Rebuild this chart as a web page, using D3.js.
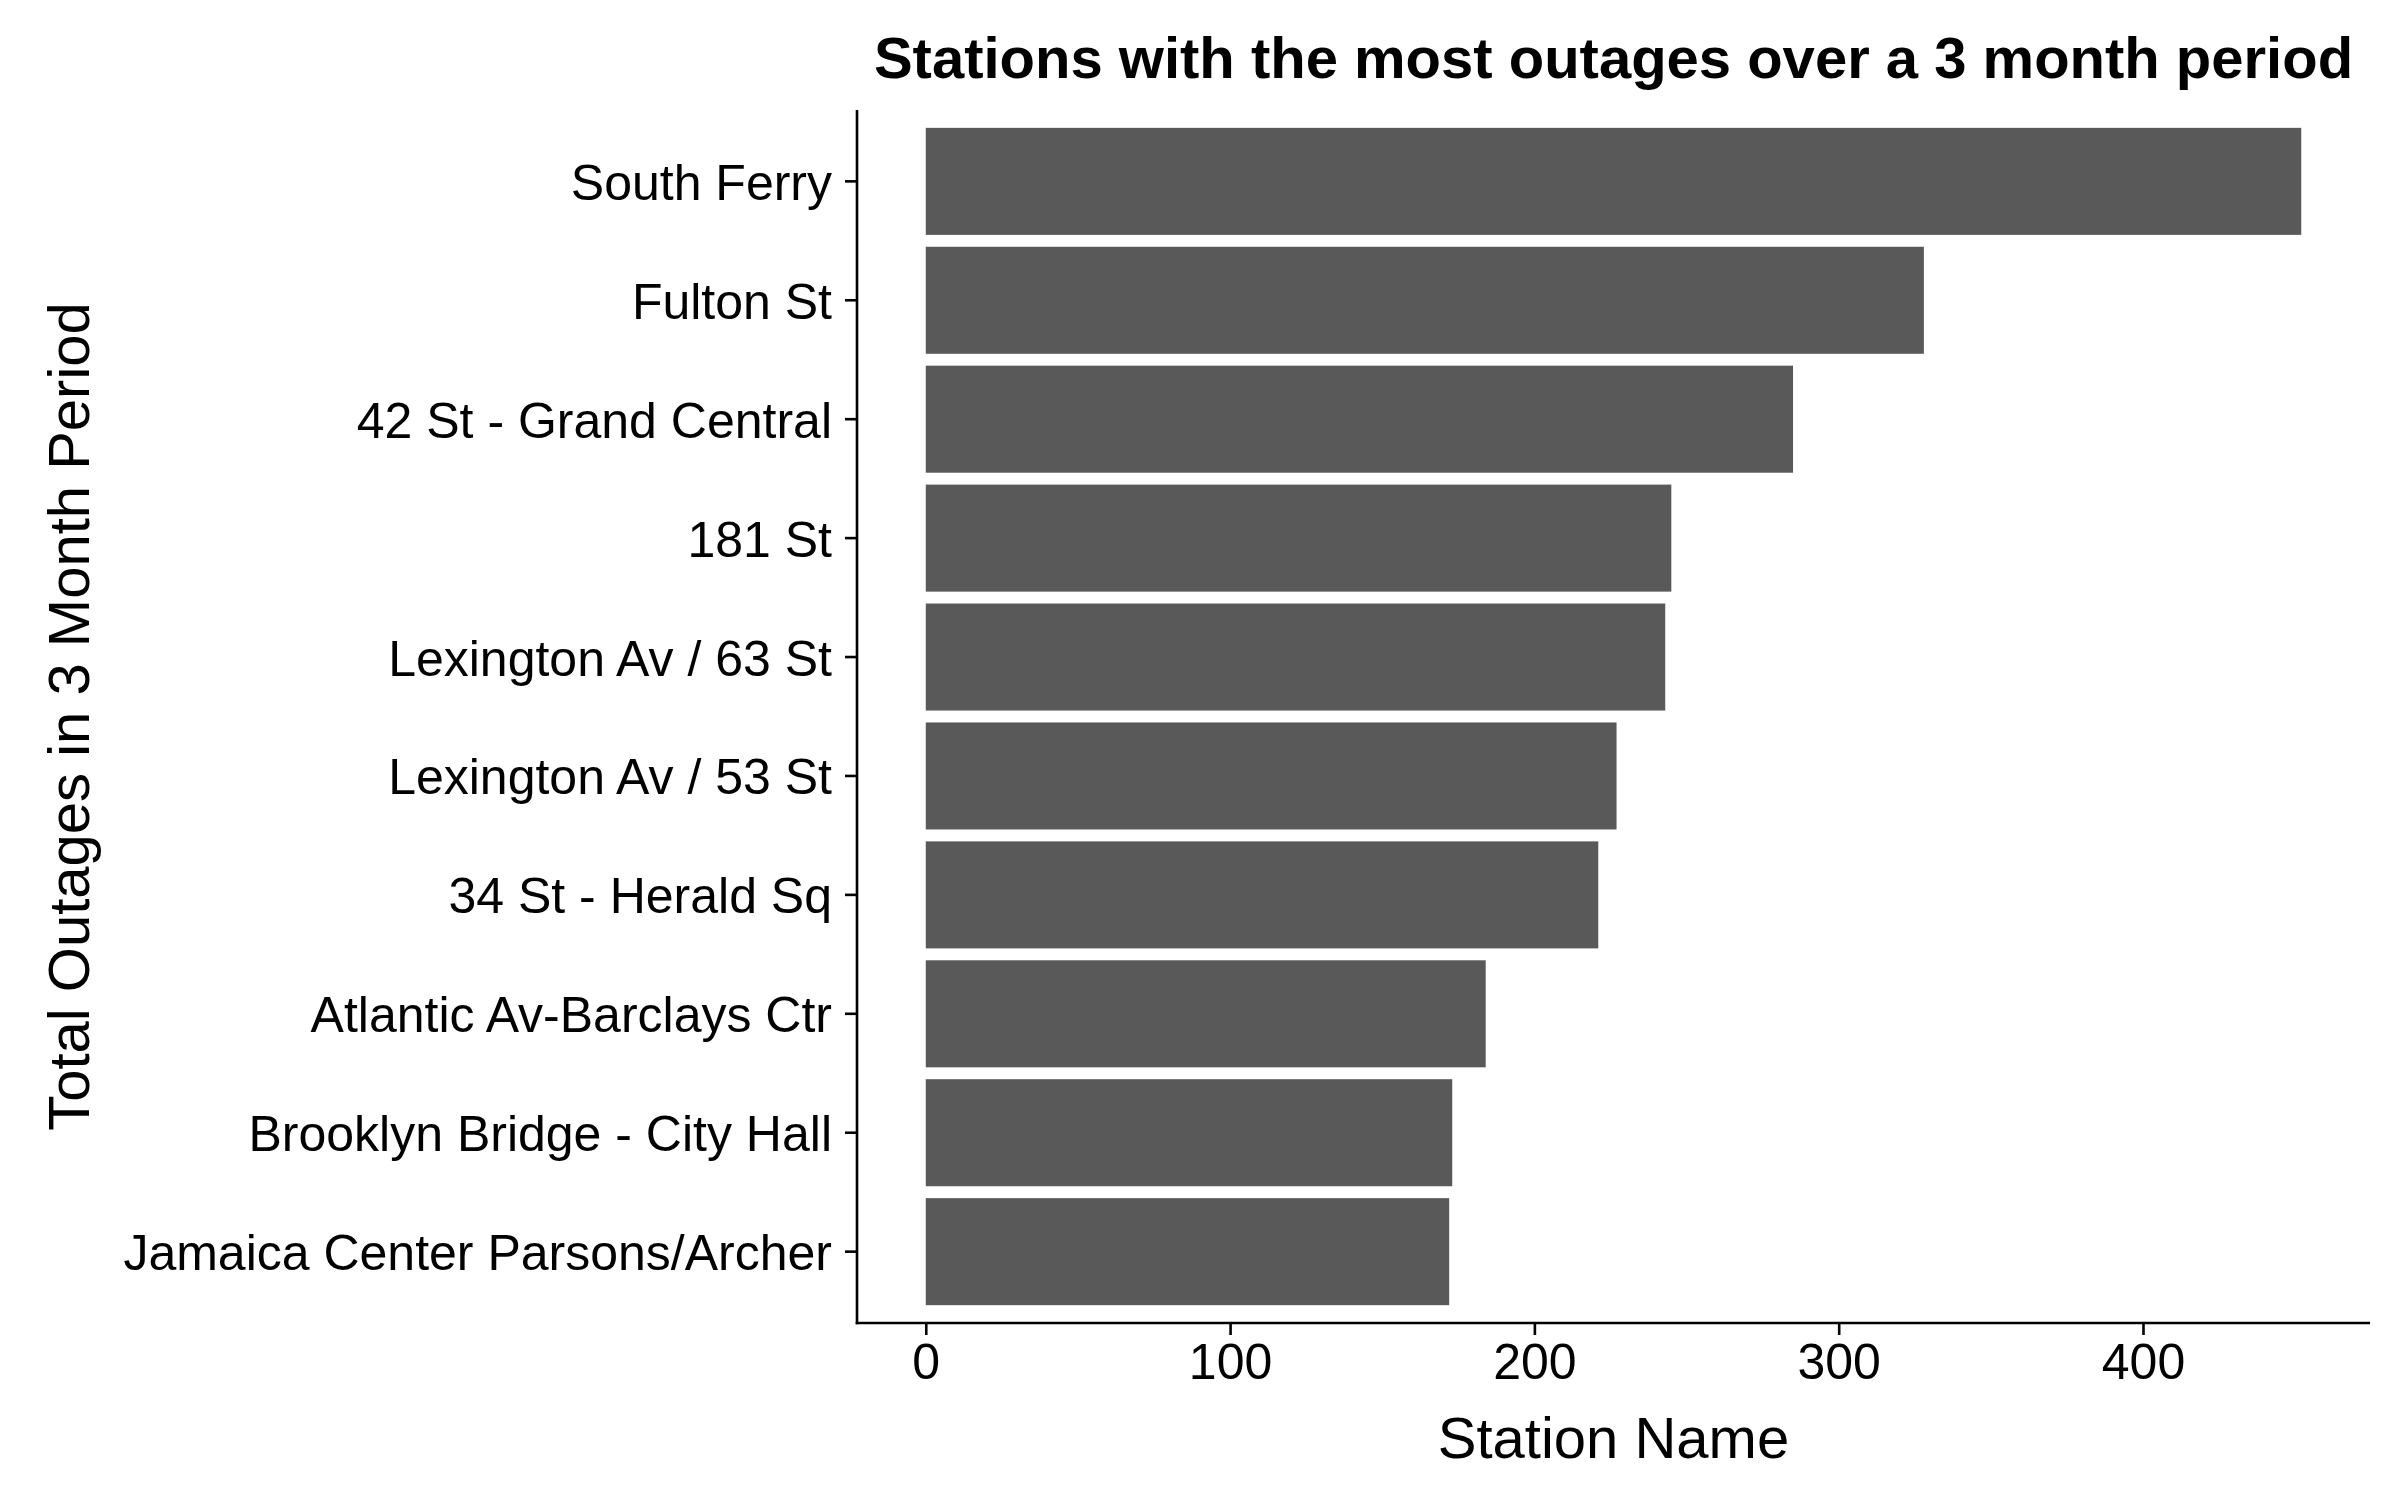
<!DOCTYPE html>
<html>
<head>
<meta charset="utf-8">
<script src="https://cdn.jsdelivr.net/npm/d3@7"></script>
<style>
  html, body { margin: 0; padding: 0; background: #ffffff; }
  svg { display: block; font-family: "Liberation Sans", Arial, sans-serif; }
</style>
</head>
<body>
<script>
const stations = [
  "South Ferry",
  "Fulton St",
  "42 St - Grand Central",
  "181 St",
  "Lexington Av / 63 St",
  "Lexington Av / 53 St",
  "34 St - Herald Sq",
  "Atlantic Av-Barclays Ctr",
  "Brooklyn Bridge - City Hall",
  "Jamaica Center Parsons/Archer"
];
const outages = [452, 328, 285, 245, 243, 227, 221, 184, 173, 172];
const xTicks = [0, 100, 200, 300, 400];
const titleText = "Stations with the most outages over a 3 month period";
const xTitle = "Station Name";
const yTitle = "Total Outages in 3 Month Period";

const W = 2400, H = 1500;
const panel = { left: 857, right: 2370, top: 110, bottom: 1323 };

const svg = d3.select("body").append("svg").attr("width", W).attr("height", H);
svg.append("rect").attr("width", W).attr("height", H).attr("fill", "#ffffff");

const maxV = d3.max(outages);
const pad = maxV * 0.05;
const x = d3.scaleLinear().domain([-pad, maxV + pad]).range([panel.left, panel.right]);
const y = d3.scaleBand().domain(stations).range([panel.top, panel.bottom])
  .paddingInner(0.1).paddingOuter(0.15);

const data = stations.map((s, i) => ({ station: s, value: outages[i] }));

svg.append("g").selectAll("rect").data(data).join("rect")
  .attr("x", x(0))
  .attr("y", d => y(d.station))
  .attr("width", d => x(d.value) - x(0))
  .attr("height", y.bandwidth())
  .attr("fill", "#595959");

// X axis
const xAxis = svg.append("g").attr("transform", `translate(0,${panel.bottom})`)
  .call(d3.axisBottom(x).tickValues(xTicks).tickSize(12).tickPadding(8).tickSizeOuter(0));
xAxis.select(".domain").remove();
xAxis.append("line").attr("x1", panel.left - 1.3).attr("x2", panel.right)
  .attr("y1", 0).attr("y2", 0).attr("stroke", "#000").attr("stroke-width", 2.6);
xAxis.selectAll(".tick line").attr("stroke", "#000").attr("stroke-width", 2.6);
xAxis.selectAll(".tick text").attr("font-size", 50).attr("fill", "#000")
  .attr("font-family", "Liberation Sans, Arial, sans-serif").attr("dy", "0.72em");

// Y axis
const yAxis = svg.append("g").attr("transform", `translate(${panel.left},0)`)
  .call(d3.axisLeft(y).tickSize(12).tickPadding(13).tickSizeOuter(0));
yAxis.select(".domain").remove();
yAxis.append("line").attr("x1", 0).attr("x2", 0)
  .attr("y1", panel.top).attr("y2", panel.bottom + 1.3).attr("stroke", "#000").attr("stroke-width", 2.6);
yAxis.selectAll(".tick line").attr("stroke", "#000").attr("stroke-width", 2.6);
yAxis.selectAll(".tick text").attr("font-size", 50).attr("fill", "#000")
  .attr("font-family", "Liberation Sans, Arial, sans-serif").attr("dy", "0.37em");

// Titles
svg.append("text").attr("x", (panel.left + panel.right) / 2).attr("y", 78)
  .attr("text-anchor", "middle").attr("font-size", 58).attr("font-weight", "bold")
  .attr("fill", "#000").text(titleText);

svg.append("text").attr("x", (panel.left + panel.right) / 2).attr("y", 1458)
  .attr("text-anchor", "middle").attr("font-size", 58).attr("fill", "#000").text(xTitle);

svg.append("text")
  .attr("transform", `translate(89,${(panel.top + panel.bottom) / 2}) rotate(-90)`)
  .attr("text-anchor", "middle").attr("font-size", 58).attr("fill", "#000").text(yTitle);
</script>
</body>
</html>
